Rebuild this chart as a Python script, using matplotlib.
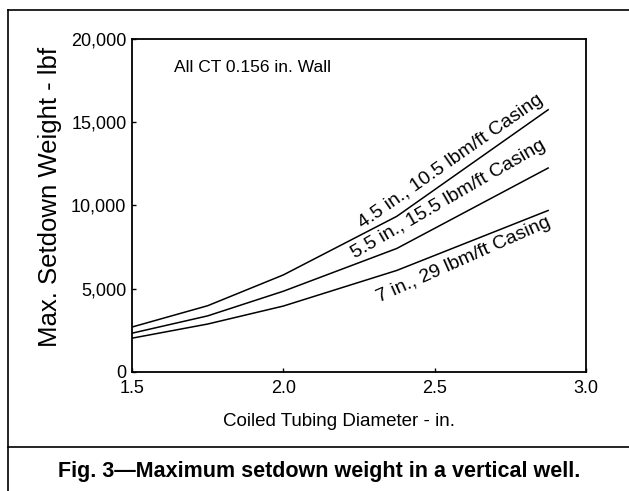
import matplotlib
matplotlib.use("Agg")
import matplotlib.pyplot as plt
from matplotlib.lines import Line2D
from matplotlib.ticker import FuncFormatter

# coiled tubing sizes and max setdown weight (lbf) for each casing
diameters = [1.5, 1.75, 2.0, 2.375, 2.875]
casing_45 = [2700, 3980, 5830, 9350, 15750]
casing_55 = [2330, 3370, 4850, 7420, 12250]
casing_7 = [2030, 2880, 3960, 6100, 9700]

curve_labels = ["4.5 in., 10.5 lbm/ft Casing",
                "5.5 in., 15.5 lbm/ft Casing",
                "7 in., 29 lbm/ft Casing"]
x_ticks = [1.5, 2.0, 2.5, 3.0]
y_ticks = [0, 5000, 10000, 15000, 20000]

plt.rcParams['font.family'] = ['Liberation Sans', 'DejaVu Sans']

fig = plt.figure(figsize=(6.29, 4.91), dpi=100)
ax = fig.add_axes([0.2099, 0.2424, 0.7217, 0.6782])

for vals in (casing_45, casing_55, casing_7):
    ax.plot(diameters, vals, color='black', lw=1.1)

ax.set_xlim(1.5, 3.0)
ax.set_ylim(0, 20000)
ax.set_xticks(x_ticks)
ax.set_yticks(y_ticks)
ax.xaxis.set_major_formatter(FuncFormatter(lambda v, p: f"{v:.1f}"))
ax.yaxis.set_major_formatter(FuncFormatter(lambda v, p: f"{int(v):,}"))
ax.tick_params(direction='in', length=3, width=1, labelsize=13)
ax.tick_params(axis='y', pad=4)
ax.tick_params(axis='x', pad=6)
for s in ax.spines.values():
    s.set_linewidth(1.3)

ax.set_xlabel("Coiled Tubing Diameter - in.", fontsize=13.5)
ax.xaxis.set_label_coords(0.457, -0.150)
ax.xaxis.label.set_va('center')
ax.set_ylabel("Max. Setdown Weight - lbf", fontsize=18.5)
ax.yaxis.set_label_coords(-0.18, 0.527)
ax.yaxis.label.set_va('center')

ax.text(0.0925, 0.913, "All CT 0.156 in. Wall", transform=ax.transAxes,
        ha='left', va='center', fontsize=12.5)

# curve labels, written along the lines
label_pos = [(2.262, 8600, 35), (2.236, 6800, 30), (2.316, 4200, 24)]
for txt, (lx, ly, rot) in zip(curve_labels, label_pos):
    ax.text(lx, ly, txt, rotation=rot, rotation_mode='anchor',
            ha='left', va='baseline', fontsize=14)

# page frame around the figure
fx0 = 8 / 629
ftop = 1 - 9.5 / 491
fdiv = 1 - 447 / 491
fig.add_artist(Line2D([fx0, 1], [ftop, ftop], color='black', lw=1.2))
fig.add_artist(Line2D([fx0, fx0], [0, ftop], color='black', lw=1.2))
fig.add_artist(Line2D([fx0, 1], [fdiv, fdiv], color='black', lw=1.2))

fig.text(0.507, 1 - 472 / 491, "Fig. 3\u2014Maximum setdown weight in a vertical well.",
         ha='center', va='center', fontsize=15.5, fontweight='bold')

fig.savefig("out.png", dpi=100)
